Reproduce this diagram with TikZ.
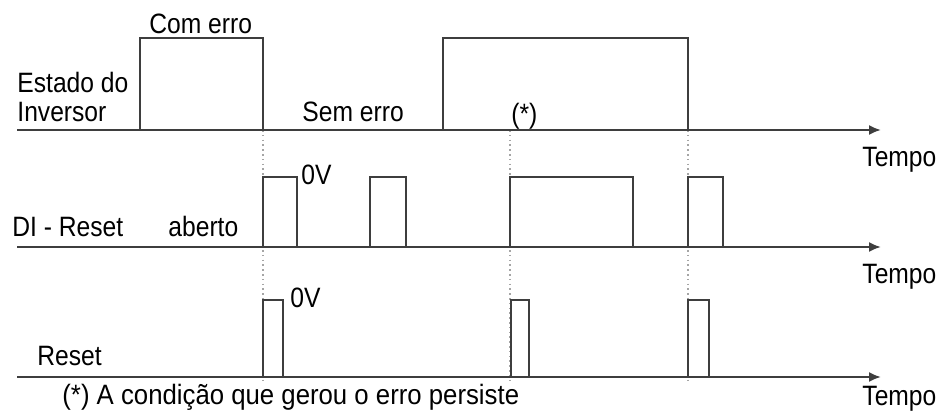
\documentclass[tikz,border=0pt]{standalone}
\usepackage{fontspec}
\setmainfont{Liberation Sans}[FakeStretch=0.88]
\newfontfamily\notefont{Liberation Sans}[FakeStretch=0.92]
\usepackage{tikz}
\usetikzlibrary{arrows.meta}
\definecolor{wavegray}{RGB}{62,62,62}
\definecolor{guidegray}{RGB}{165,165,165}

\begin{document}
\begin{tikzpicture}[x=0.5pt, y=-0.5pt, >=Latex, font=\fontsize{14}{16}\selectfont]
\tikzstyle{wave}=[draw=wavegray, line width=1pt, line join=miter]
\tikzstyle{axis}=[wave, -{Latex[length=6pt,width=5pt]}]
\tikzstyle{guide}=[draw=guidegray, line width=0.8pt, dash pattern=on 0.8pt off 1.6pt]
\tikzstyle{lbl}=[anchor=base west, inner sep=0pt, text=black]
\useasboundingbox (0,0) rectangle (940,416);
% time axes
\coordinate (inv0) at (17,130);  \coordinate (inv1) at (881,130);
\coordinate (di0)  at (17,247);  \coordinate (di1)  at (881,247);
\coordinate (rst0) at (17,377);  \coordinate (rst1) at (881,377);
% guide lines
\draw[guide] (263,130) -- (263,380);
\draw[guide] (510,130) -- (510,380);
\draw[guide] (688,130) -- (688,380);
% Estado do Inversor
\draw[wave] (140,130) |- (263,38) -- (263,130);
\draw[wave] (443,130) |- (688,38) -- (688,130);
% DI - Reset
\draw[wave] (263,247) |- (297,177) -- (297,247);
\draw[wave] (370,247) |- (406,177) -- (406,247);
\draw[wave] (510,247) |- (633,177) -- (633,247);
\draw[wave] (688,247) |- (723,177) -- (723,247);
% Reset
\draw[wave] (263,377) |- (283,300) -- (283,377);
\draw[wave] (511,377) |- (529,300) -- (529,377);
\draw[wave] (688,377) |- (709,300) -- (709,377);
\draw[axis] (inv0) -- (inv1);
\draw[axis] (di0) -- (di1);
\draw[axis] (rst0) -- (rst1);
% labels
\node[lbl] (comerro) at (149,34) {Com erro};
\node[lbl] (estado) at (17,93) {Estado do};
\node[lbl] (inversor) at (17,122) {Inversor};
\node[lbl] (semerro) at (302,122) {Sem erro};
\node[lbl] (ast) at (511,124) {(*)};
\node[lbl] (tempoa) at (862,167) {Tempo};
\node[lbl] (direset) at (12,237) {DI - Reset};
\node[lbl] (aberto) at (168,237) {aberto};
\node[lbl] (zeroa) at (301,185) {0V};
\node[lbl] (tempob) at (862,284) {Tempo};
\node[lbl] (zerob) at (290,307) {0V};
\node[lbl] (reset) at (37,365) {Reset};
\node[lbl, font=\notefont\fontsize{14}{16}\selectfont] (nota) at (62,404) {(*) A condição que gerou o erro persiste};
\node[lbl] (tempoc) at (862,405) {Tempo};
\end{tikzpicture}
\end{document}
